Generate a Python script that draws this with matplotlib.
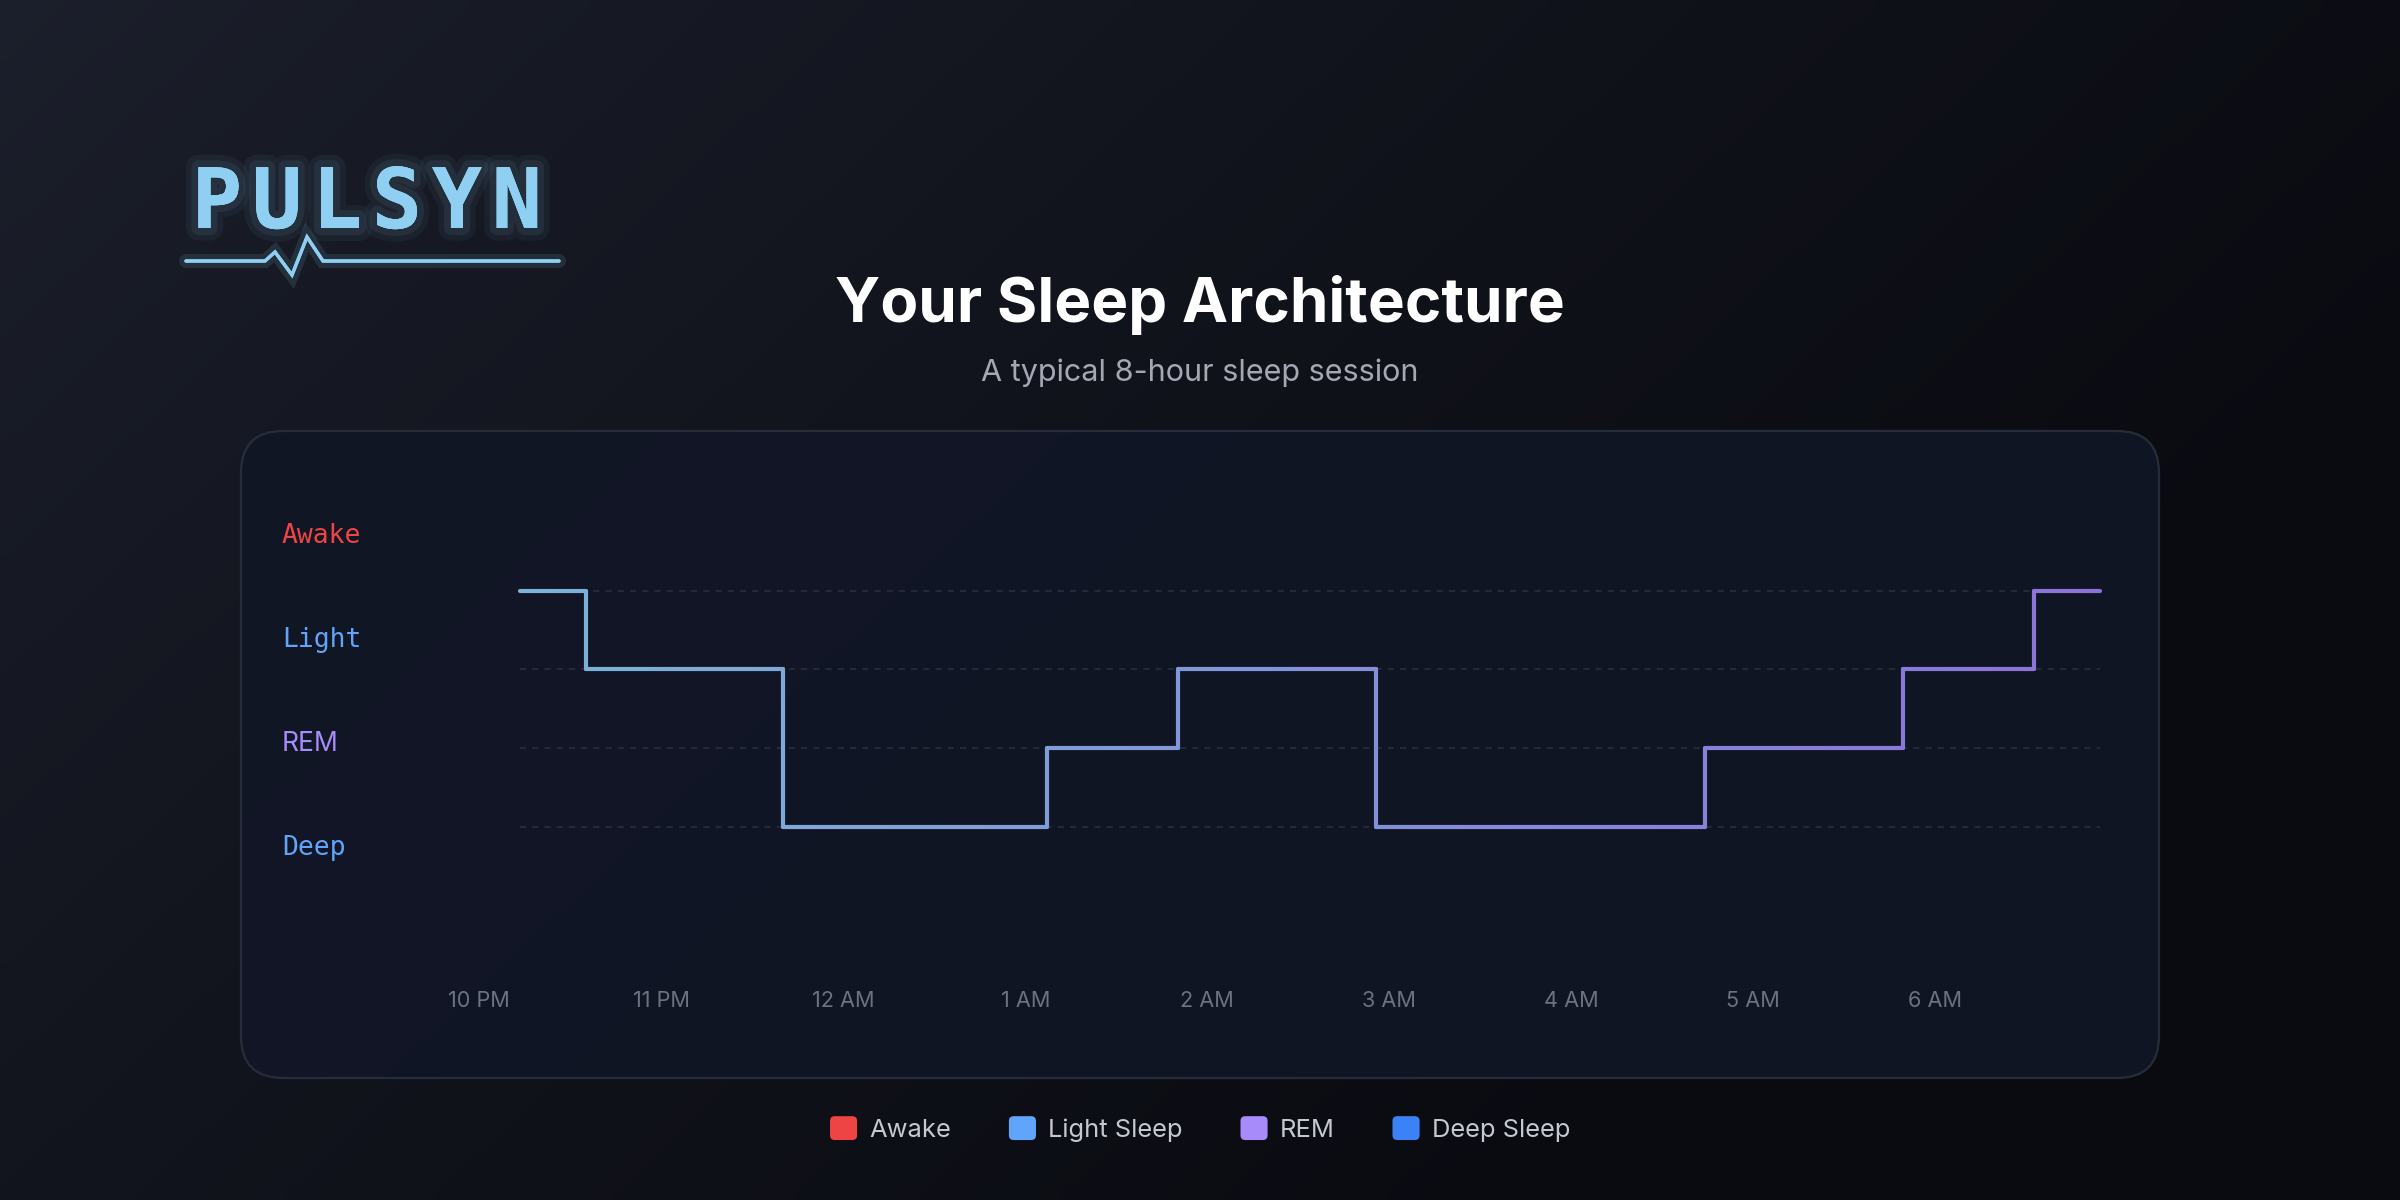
import numpy as np
import matplotlib
matplotlib.use("Agg")
import matplotlib.pyplot as plt
from matplotlib.collections import LineCollection
from matplotlib.patches import FancyBboxPatch, Patch
from matplotlib.legend_handler import HandlerPatch
from matplotlib.colors import to_rgb
import matplotlib.patheffects as pe

# ---------------- data ----------------
stage_names = ["Deep", "REM", "Light", "Awake"]          # level 0..3
stage_label_colors = ["#60a5fa", "#a78bfa", "#60a5fa", "#ef4444"]
step_minutes = [0, 20, 80, 160, 200, 260, 360, 420, 460, 480]  # minutes after 10 PM
segment_stages = ["Awake", "Light", "Deep", "REM", "Light", "Deep", "REM", "Light", "Awake"]
tick_hours = [0, 1, 2, 3, 4, 5, 6, 7, 8]
tick_labels = ["10 PM", "11 PM", "12 AM", "1 AM", "2 AM", "3 AM", "4 AM", "5 AM", "6 AM"]
legend_labels = ["Awake", "Light Sleep", "REM", "Deep Sleep"]
legend_colors = ["#ef4444", "#60a5fa", "#a78bfa", "#3b82f6"]
title = "Your Sleep Architecture"
subtitle = "A typical 8-hour sleep session"
brand = "PULSYN"

W, H = 2400, 1200
fig = plt.figure(figsize=(12, 6), dpi=200)


def fx(px):
    return px / W


def fy(py):
    return 1 - py / H


# ---------------- background (pixel coordinate axes) ----------------
bg = fig.add_axes([0, 0, 1, 1], zorder=0)
bg.set_xlim(0, W)
bg.set_ylim(H, 0)
bg.axis("off")
gx, gy = np.meshgrid(np.linspace(0, 1, 400), np.linspace(0, 1, 200))
t = np.clip(0.85 * gx + 0.45 * gy, 0, 1) ** 0.8
c0 = np.array([28, 32, 44]) / 255
c1 = np.array([10, 11, 17]) / 255
img = c0[None, None, :] * (1 - t[..., None]) + c1[None, None, :] * t[..., None]
bg.imshow(img, extent=[0, W, H, 0], aspect="auto", zorder=0, interpolation="bicubic")

# panel
panel = FancyBboxPatch((241, 431), 2159 - 241, 1078 - 431,
                       boxstyle="round,pad=0,rounding_size=42",
                       facecolor="#111626", edgecolor="#2a2f3d", linewidth=0.8,
                       alpha=0.92, zorder=1)
bg.add_patch(panel)

# logo
logo_color = "#8fd0f2"
glow = [pe.withStroke(linewidth=9, foreground=logo_color, alpha=0.05),
        pe.withStroke(linewidth=5, foreground=logo_color, alpha=0.08),
        pe.Normal()]
for i, ch in enumerate(brand):
    bg.text(217 + i * 60, 228, ch, color=logo_color, fontsize=30,
            family="DejaVu Sans Mono", weight="bold", ha="center", va="baseline",
            zorder=3, path_effects=glow)
pulse_x = [186, 265, 275, 292, 307, 323, 559]
pulse_y = [261, 261, 252, 275, 237, 261, 261]
bg.plot(pulse_x, pulse_y, color=logo_color, lw=1.2, solid_capstyle="round",
        solid_joinstyle="miter", zorder=3,
        path_effects=[pe.withStroke(linewidth=5, foreground=logo_color, alpha=0.12), pe.Normal()])

# titles
bg.text(1200, 322, title, color="white", fontsize=22.3, family="Inter",
        weight="bold", ha="center", va="baseline", zorder=3)
bg.text(1200, 381, subtitle, color="#a3a8b4", fontsize=11.0, family="Inter",
        ha="center", va="baseline", zorder=3)

# ---------------- main chart axes ----------------
ax = fig.add_axes([fx(520), fy(880), 1580 / W, 340 / H], zorder=2)
ax.set_facecolor("none")
ax.set_xlim(0, 480)
ax.set_ylim(-0.6726, 3.643)
for s in ax.spines.values():
    s.set_visible(False)
ax.set_yticks(range(len(stage_names)))
ax.set_xticks([])
ax.tick_params(left=False, labelleft=False, bottom=False, labelbottom=False)
ax.yaxis.grid(True, color="#2b3041", lw=0.55, linestyle=(0, (4, 4)))
ax.set_axisbelow(True)

level_of = {n: i for i, n in enumerate(stage_names)}
times = np.array(step_minutes, dtype=float)
levels = np.array([level_of[s] for s in segment_stages], dtype=float)
vx = np.repeat(times, 2)[1:-1]
vy = np.repeat(levels, 2)
segs, mids = [], []
for k in range(len(vx) - 1):
    n = max(1, int(abs(vx[k + 1] - vx[k]) / 2))
    xs = np.linspace(vx[k], vx[k + 1], n + 1)
    ys = np.linspace(vy[k], vy[k + 1], n + 1)
    for j in range(n):
        segs.append([(xs[j], ys[j]), (xs[j + 1], ys[j + 1])])
        mids.append((xs[j] + xs[j + 1]) / 2)
mids = np.array(mids) / 480
ca = np.array(to_rgb("#7bb3d7"))
cb = np.array(to_rgb("#8c71da"))
cols = ca[None, :] * (1 - mids[:, None]) + cb[None, :] * mids[:, None]
lc = LineCollection(segs, colors=cols, linewidths=1.5, capstyle="round",
                    joinstyle="round", zorder=3, clip_on=False)
ax.add_collection(lc)

# y stage labels (own scale)
ax_y = fig.add_axes([fx(200), fy(900), 82 / W, 420 / H], zorder=2)
ax_y.set_facecolor("none")
ax_y.set_ylim(-0.5288, 3.5096)
for s in ax_y.spines.values():
    s.set_visible(False)
ax_y.set_xticks([])
ax_y.yaxis.tick_right()
ax_y.set_yticks(range(len(stage_names)))
ax_y.set_yticklabels(stage_names)
ax_y.tick_params(axis="y", length=0, pad=0, labelsize=9.5)
for lbl, col in zip(ax_y.get_yticklabels(), stage_label_colors):
    lbl.set_color(col)
    lbl.set_family("Inter" if lbl.get_text() == "REM" else "DejaVu Sans Mono")

# x time labels (own scale: 182 px per hour, 10 PM at x=479 px)
ax_x = fig.add_axes([fx(400), fy(991), 1700 / W, 1 / H], zorder=2)
ax_x.set_facecolor("none")
ax_x.set_xlim(-26.14, 534.3)
for s in ax_x.spines.values():
    s.set_visible(False)
ax_x.set_yticks([])
ax_x.set_xticks([h * 60 for h in tick_hours])
ax_x.set_xticklabels(tick_labels, family="Inter", color="#6b7280")
ax_x.tick_params(axis="x", length=0, pad=0, labelsize=7.8)


# ---------------- legend ----------------
class RoundHandler(HandlerPatch):
    def create_artists(self, legend, orig_handle, xdescent, ydescent, width, height,
                       fontsize, trans):
        p = FancyBboxPatch((-xdescent, -ydescent), width, height,
                           boxstyle="round,pad=0,rounding_size=%f" % (0.2 * height),
                           facecolor=orig_handle.get_facecolor(), edgecolor="none",
                           transform=trans)
        return [p]


handles = [Patch(facecolor=c, label=l) for c, l in zip(legend_colors, legend_labels)]
leg = fig.legend(handles=handles, loc="center", bbox_to_anchor=(0.5, fy(1129)),
                 ncol=4, frameon=False, prop={"family": "Inter", "size": 9.2},
                 labelcolor="#c4c8d0", handlelength=1.06, handleheight=1.06,
                 handletextpad=0.47, columnspacing=2.27,
                 handler_map={Patch: RoundHandler()})

fig.savefig("out.png", dpi=200)
